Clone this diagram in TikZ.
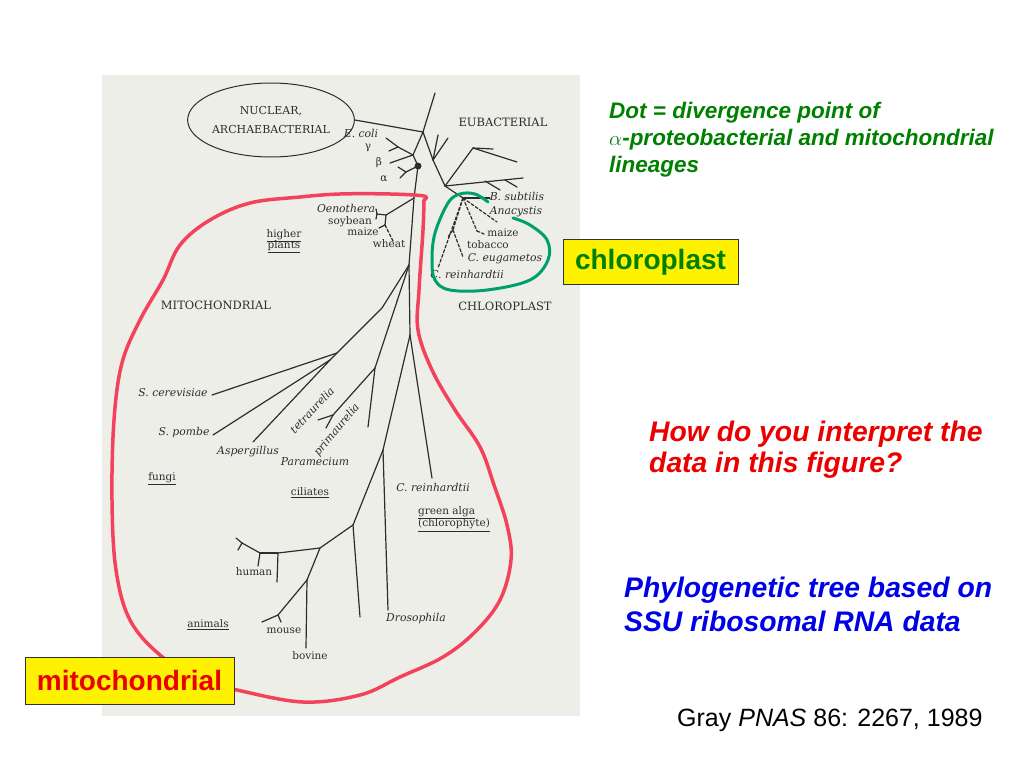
\documentclass[tikz,border=0pt]{standalone}
\usepackage{fontspec}
\setmainfont{Liberation Sans}
\newfontfamily\scanfont{DejaVu Serif}
\usetikzlibrary{shapes.geometric}
\definecolor{scanbg}{RGB}{238,238,233}
\definecolor{inkc}{RGB}{45,45,45}
\definecolor{redloop}{RGB}{242,66,92}
\definecolor{greenloop}{RGB}{0,160,110}
\definecolor{slidegreen}{RGB}{0,128,0}
\definecolor{slidered}{RGB}{235,0,0}
\definecolor{slideblue}{RGB}{0,0,230}
\tikzset{
  branch/.style={draw=inkc, line width=1.2pt, line cap=round},
  dbranch/.style={branch, dash pattern=on 3pt off 2pt},
  capslbl/.style={font=\scanfont\fontsize{11.5}{13}\selectfont, text=inkc, inner sep=0pt},
  spclbl/.style={font=\scanfont\itshape\fontsize{10.8}{12}\selectfont, text=inkc, inner sep=0pt},
  plainlbl/.style={font=\scanfont\fontsize{10.5}{12}\selectfont, text=inkc, inner sep=0pt},
  tagbox/.style={draw=black!80, line width=0.8pt, fill=yellow, minimum height=45pt,
    font=\fontsize{28}{30}\selectfont\bfseries, inner sep=0pt},
  slidetxt/.style={anchor=west, align=left, inner sep=0pt}
}
\begin{document}
\begin{tikzpicture}[x=1pt,y=-1pt]
\useasboundingbox (0,0) rectangle (1024,768);
\fill[white] (0,0) rectangle (1024,768);
\fill[scanbg] (102,75) rectangle (580,716);
% tree junctions and tips
\foreach \n/\x/\y in {a/423/132, au/435/93, b/433/160, b1/438/135, b2/448/138, c/445/186,
    c1/473/148, c1a/493/149, c1b/517/162, c2/523/178, c3/485/181, c3a/500/190, c4/505/180, c4a/517/187,
    g/413/155, gc/398/147, gce/386/138, gcg/389/151, gb/390/163, d/418/166,
    al/406/172, ala/398/167, alb/400/178,
    m1/414/198, p/386/215, pa/377/214, pa1/376/209, pa2/376/219, pb/385/225, pb1/379/228, pw/393/241,
    t1/409/265, f0/382/308, fa/337/353, fb/330/360, sce/212/395, spo/213/435, asp/253/442,
    ci/375/368, pj/333/415, pj1/318/420, pj2/326/428, cu/368/427,
    t3/410/335, crh/432/478, an0/383/450, dro/388/610, a1/353/525, u1/360/617, a2/320/548,
    h1/278/553, h1e/277/582, h2/260/553, h2e/258/566, h3/242/543, h3a/236/538, h3b/238/550,
    a3/307/580, bov/306/648, m2/278/615, m2a/262/622, m2b/281/622,
    k/463/198, bs/490/198, ana/497/222, kz/477/231, kza/484/234, kt/453/230, kt1/448/237, ce/463/257, cr/438/268}
  \coordinate (\n) at (\x,\y);
\node[ellipse, draw=inkc, line width=1pt, minimum width=134pt, minimum height=74pt, inner sep=0pt,
  align=center, font=\scanfont\fontsize{11}{19}\selectfont, text=inkc] (ell) at (271,120) {NUCLEAR,\\ARCHAEBACTERIAL};
\draw[branch] (ell.east) -- (a);
\foreach \u/\v in {a/au, a/b, b/b1, b/b2, b/c, c/c1, c1/c1a, c1/c1b, c/c2, c3/c3a, c4/c4a,
    a/g, g/gc, gc/gce, gc/gcg, g/gb, g/d, d/al, al/ala, al/alb, d/m1,
    m1/p, p/pa, pa/pa1, pa/pa2, p/pb, pb/pb1, m1/t1, t1/f0, f0/fa, fa/sce, fa/fb, fb/spo, fb/asp,
    t1/ci, ci/pj, pj/pj1, pj/pj2, ci/cu, t1/t3, t3/crh, t3/an0, an0/dro, an0/a1, a1/u1, a1/a2,
    a2/h1, h1/h1e, h1/h2, h2/h2e, h2/h3, h3/h3a, h3/h3b, a2/a3, a3/bov, a3/m2, m2/m2a, m2/m2b,
    c/k, k/bs}
  \draw[branch] (\u) -- (\v);
\foreach \u/\v in {pb/pw, k/ana, k/kz, kz/kza, k/kt, kt/kt1, kt/ce, k/cr}
  \draw[dbranch] (\u) -- (\v);
\fill[inkc] (d) circle (3.5);
% tree labels
\node[capslbl] (eub) at (503,122) {EUBACTERIAL};
\node[capslbl] (mito) at (216,305) {MITOCHONDRIAL};
\node[capslbl] (chlo) at (505,306) {CHLOROPLAST};
\node[spclbl] (ecoli) at (361,133) {E. coli};
\node[plainlbl] (gam) at (368,148) {γ};
\node[plainlbl] (bet) at (379,163) {β};
\node[plainlbl] (alp) at (384,179) {α};
\node[spclbl] (oeno) at (346,208) {Oenothera};
\node[plainlbl] (soy) at (350,222) {soybean};
\node[plainlbl] (maizem) at (363,232) {maize};
\node[plainlbl] (wheat) at (389,244) {wheat};
\node[plainlbl, align=center] (higher) at (284,241) {\underline{higher}\\[-2pt]\underline{plants}};
\node[spclbl] (bsub) at (517,196) {B. subtilis};
\node[spclbl] (anac) at (516,212) {Anacystis};
\node[plainlbl] (maizec) at (503,233) {maize};
\node[plainlbl] (tobac) at (488,245) {tobacco};
\node[spclbl] (ceug) at (505,259) {C. eugametos};
\node[spclbl] (crc) at (467,274) {C. reinhardtii};
\node[spclbl] (scer) at (173,393) {S. cerevisiae};
\node[spclbl] (spom) at (184,433) {S. pombe};
\node[spclbl] (aspe) at (248,452) {Aspergillus};
\node[spclbl] (para) at (315,462) {Paramecium};
\node[spclbl, rotate=47] (tetra) at (312,410) {tetraurelia};
\node[spclbl, rotate=50] (prim) at (337,430) {primaurelia};
\node[plainlbl] (fungi) at (162,479) {\underline{fungi}};
\node[plainlbl] (cilia) at (310,493) {\underline{ciliates}};
\node[spclbl] (crm) at (433,487) {C. reinhardtii};
\node[plainlbl, align=left, anchor=west] (galga) at (418,519) {\underline{green alga}\\[-1pt]\underline{(chlorophyte)}};
\node[spclbl] (droso) at (416,619) {Drosophila};
\node[plainlbl] (human) at (254,572) {human};
\node[plainlbl] (anim) at (208,625) {\underline{animals}};
\node[plainlbl] (mouse) at (284,631) {mouse};
\node[plainlbl] (bovine) at (310,656) {bovine};
% hand-drawn loops
\draw[redloop, line width=3.5pt, line cap=round, line join=round] plot[smooth, tension=0.6] coordinates {
  (424,200) (424,196) (390,194) (340,194) (300,197) (250,203) (210,220) (180,245) (163,280) (140,320)
  (122,363) (114,420) (112,500) (116,570) (130,620) (160,655) (200,680) (237,690) (303,702) (360,695)
  (400,677) (443,657) (475,632) (500,600) (511,560) (507,525) (494,485) (480,447) (455,410) (432,370)
  (418,330) (419,290) (423,230) (424,200)};
\draw[greenloop, line width=3pt, line cap=round] plot[smooth, tension=0.6] coordinates {
  (488,202) (475,194) (460,194) (448,203) (435,233) (432,260) (435,280) (450,290) (487,290)
  (530,280) (548,260) (547,240) (530,225) (513,218)};
% slide text
\node[tagbox, minimum width=175pt, text=slidegreen] (chlobox) at (650.5,262) {chloroplast};
\node[tagbox, minimum width=209pt, minimum height=47pt, text=slidered] (mitobox) at (129.5,680.5) {mitochondrial};
\node[slidetxt, text=slidegreen, font=\fontsize{22.5}{27}\selectfont\bfseries\itshape] (dotnote) at (609,140)
  {Dot = divergence point of\\$\alpha$-proteobacterial and mitochondrial\\lineages};
\node[slidetxt, text=slidered, font=\fontsize{28.3}{31}\selectfont\bfseries\itshape] (question) at (649,450)
  {How do you interpret the\\data in this figure?};
\node[slidetxt, text=slideblue, font=\fontsize{28.3}{34}\selectfont\bfseries\itshape] (basis) at (624,604)
  {Phylogenetic tree based on\\SSU ribosomal RNA data};
\node[slidetxt, font=\fontsize{25}{28}\selectfont] (cite) at (677,720) {Gray \textit{PNAS} 86: 2267, 1989};
\end{tikzpicture}
\end{document}
